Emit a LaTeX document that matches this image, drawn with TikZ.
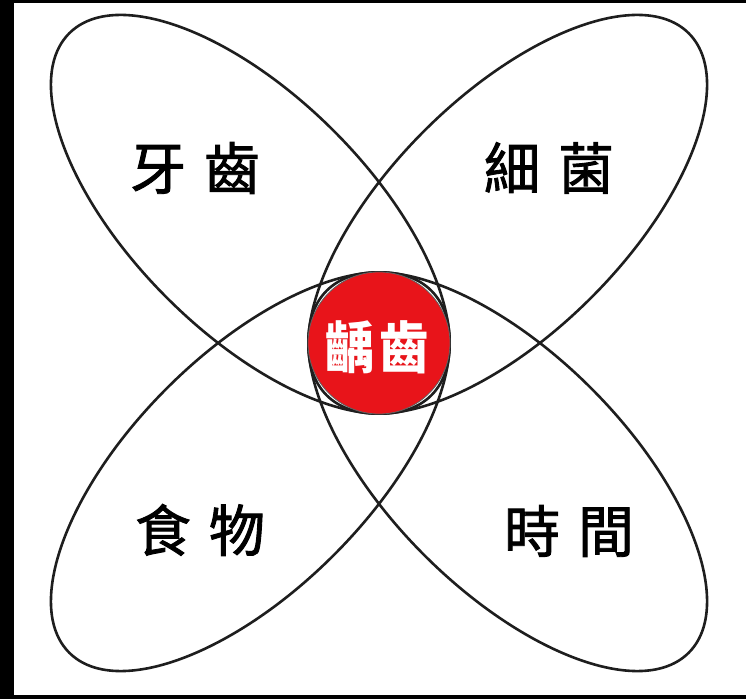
\documentclass[tikz,border=0pt]{standalone}
\usepackage{fontspec}
\newfontfamily\cjk{Noto Sans CJK TC}
\newfontfamily\cjklabel{Noto Sans CJK TC}[FakeBold=1.6]
\definecolor{inkline}{HTML}{1E1E1E}
\definecolor{cariesred}{HTML}{E8141A}
\tikzset{
  petal/.style={draw=inkline, line width=2.6pt},
  label/.style={font=\cjklabel\fontsize{56}{60}\selectfont, text=black, inner sep=0pt},
  core/.style={circle, fill=cariesred, draw=inkline!70, line width=0.8pt, minimum size=142pt, inner sep=0pt},
  coretext/.style={font=\cjk\bfseries\fontsize{56}{60}\selectfont, text=white, inner sep=0pt, xscale=0.88}
}
\begin{document}
\begin{tikzpicture}[x=1pt,y=1pt]
\fill[black] (0,0) rectangle (746,699);
\fill[white] (14,4) rectangle (746,696);
\useasboundingbox (0,0) rectangle (746,699);
% four petals
\draw[petal, rotate around={-45:(250.3,484.7)}] (250.3,484.7) ellipse [x radius=256, y radius=118];
\draw[petal, rotate around={-45:(507.7,227.3)}] (507.7,227.3) ellipse [x radius=256, y radius=118];
\draw[petal, rotate around={45:(507.7,484.7)}] (507.7,484.7) ellipse [x radius=256, y radius=118];
\draw[petal, rotate around={45:(250.3,227.3)}] (250.3,227.3) ellipse [x radius=256, y radius=118];
% centre
\node[core] (caries) at (379,356) {};
\node[coretext] (cariestext) at (377,352) {齲\kern5pt齒};
% labels
\node[label] (teeth) at (195,531) {牙\kern18pt齒};
\node[label] (bacteria) at (549,531) {細\kern18pt菌};
\node[label] (food) at (200,169) {食\kern18pt物};
\node[label] (time) at (569,168) {時\kern18pt間};
\end{tikzpicture}
\end{document}
